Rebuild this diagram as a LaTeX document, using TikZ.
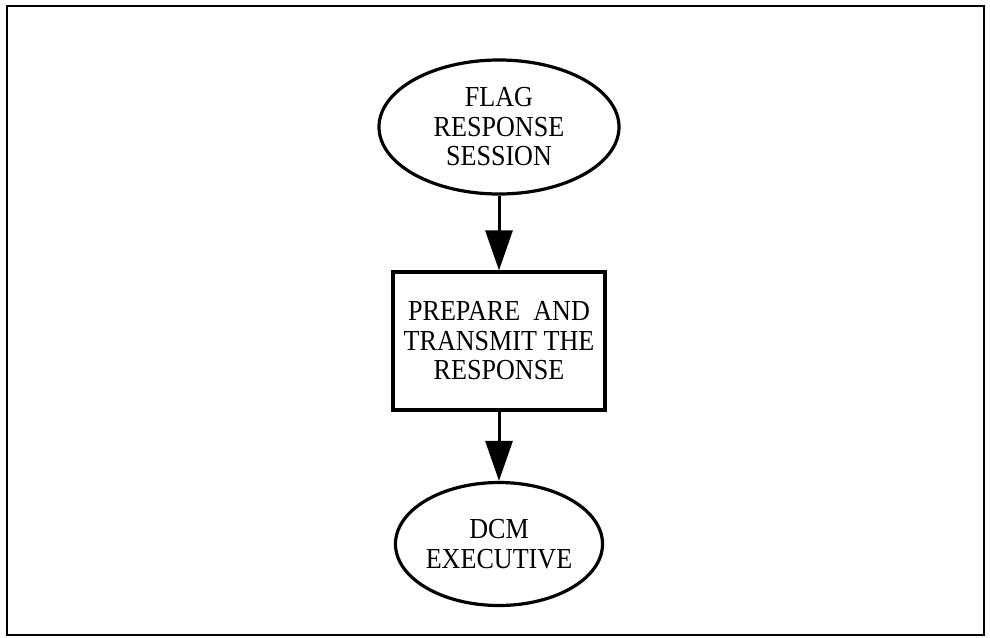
\documentclass[tikz,border=0pt]{standalone}
\usepackage{fontspec}
\setmainfont{Liberation Serif}[FakeStretch=0.9]
\usetikzlibrary{shapes.geometric,arrows.meta}

\tikzset{
  every picture/.style={x=1pt,y=-1pt},
  label text/.style={font=\fontsize{29}{29.5}\selectfont, align=center, text=black},
  oval/.style={ellipse, draw=black, line width=3.2pt, inner sep=0pt, label text},
  procbox/.style={rectangle, draw=black, line width=3.2pt, inner sep=0pt, label text},
  flow/.style={draw=black, line width=3pt, -{Triangle[length=40pt,width=27pt]}}
}

\begin{document}
\begin{tikzpicture}
  \useasboundingbox (0,0) rectangle (990,637);
  % outer frame
  \draw[line width=2.2pt] (7,6) rectangle (984,635);

  % flow nodes
  \node[oval, minimum width=240pt, minimum height=134pt] (flag) at (499,127)
    {FLAG\\RESPONSE\\SESSION};
  \node[procbox, minimum width=212pt, minimum height=138pt] (prep) at (499,341)
    {PREPARE\ \ AND\\TRANSMIT THE\\RESPONSE};
  \node[oval, minimum width=202pt, minimum height=123pt] (dcm) at (499,544)
    {DCM\\EXECUTIVE};

  % connectors
  \draw[flow] (flag.south) -- (prep.north);
  \draw[flow] (prep.south) -- (dcm.north);
\end{tikzpicture}
\end{document}
